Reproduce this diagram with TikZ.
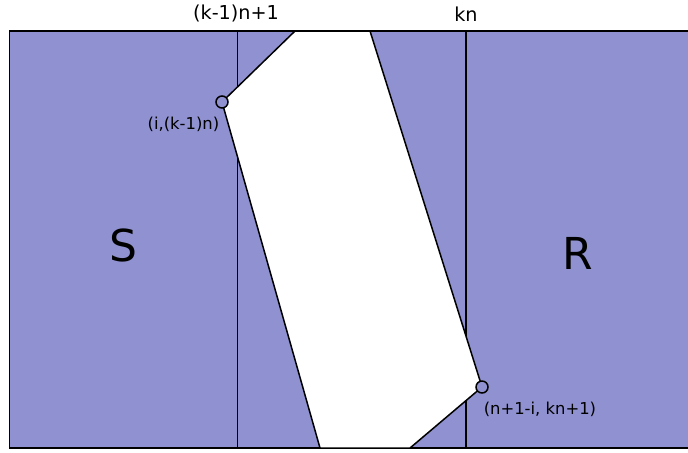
\documentclass[tikz,border=0pt]{standalone}
\usepackage{fontspec}
\setmainfont{DejaVu Sans}
\usetikzlibrary{positioning}
\definecolor{regionblue}{RGB}{143,145,208}

\begin{document}
\begin{tikzpicture}[x=0.5pt,y=-0.5pt,
  line width=0.75pt,
  corner/.style={circle, draw, fill=regionblue, inner sep=0pt, minimum size=6pt},
  tag/.style={font=\fontsize{8.2}{9}\selectfont, inner sep=0pt},
  col/.style={font=\fontsize{9.6}{11}\selectfont, inner sep=0pt},
  big/.style={font=\fontsize{22}{26}\selectfont, inner sep=0pt}]
\useasboundingbox (0,0) rectangle (688,452);

% ===== region =====
\fill[regionblue] (9.5,31) rectangle (700,448);
\draw (700,31) -- (9.5,31) -- (9.5,448) -- (700,448);

% ===== columns =====
\coordinate (c1t) at (237.5,31);
\coordinate (c1b) at (237.5,448);
\coordinate (c2t) at (466,31);
\coordinate (c2b) at (466,448);
\draw (c1t) -- (c1b);
\draw (c2t) -- (c2b);

% ===== hole =====
\coordinate (p1) at (295,31);
\coordinate (p2) at (370,31);
\coordinate (p3) at (482,387);
\coordinate (p4) at (410,448);
\coordinate (p5) at (320,448);
\coordinate (p6) at (222,102);
\draw[fill=white] (p1) -- (p2) -- (p3) -- (p4) -- (p5) -- (p6) -- cycle;

\node[corner] (ul) at (p6) {};
\node[corner] (lr) at (p3) {};

% ===== labels =====
\node[col] (top1) at (236,13) {(k-1)n+1};
\node[col] (top2) at (466,14) {kn};
\node[tag, anchor=north east] (lab1) at (220,116) {(i,(k-1)n)};
\node[tag, anchor=north west] (lab2) at (483,401) {(n+1-i, kn+1)};
\node[big] (S) at (123,245) {S};
\node[big] (R) at (578,253) {R};

\end{tikzpicture}
\end{document}
